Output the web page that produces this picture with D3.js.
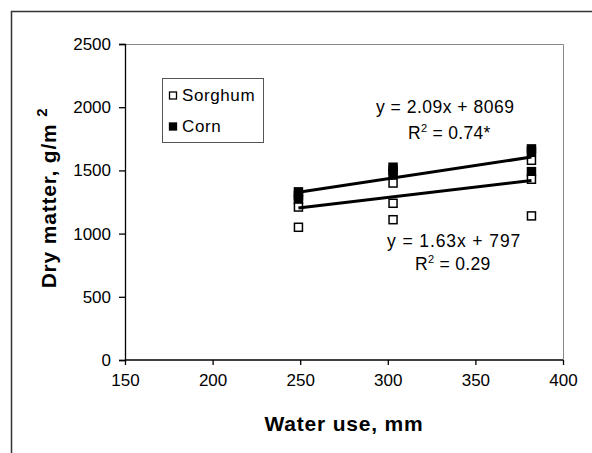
<!DOCTYPE html>
<html>
<head>
<meta charset="utf-8">
<script src="https://cdn.jsdelivr.net/npm/d3@7"></script>
<style>
    body { margin: 0; background: #fff; }
    text { font-family: "Liberation Sans", Arial, sans-serif; fill: #000; }
</style>
</head>
<body>
<div id="chart"></div>
<script>
// values
const xTicks = [150, 200, 250, 300, 350, 400];
const yTicks = [0, 500, 1000, 1500, 2000, 2500];

const sorghumWater = [249, 249, 303, 303, 303, 382, 382, 382];
const sorghumDM    = [1210, 1050, 1400, 1240, 1110, 1580, 1430, 1140];
const cornWater    = [249, 249, 249, 303, 303, 303, 382, 382, 382];
const cornDM       = [1330, 1300, 1270, 1525, 1500, 1475, 1670, 1650, 1490];

const seriesNames = ['Sorghum', 'Corn'];
const slopes      = [1.63, 2.09];
const intercepts  = [797, 806.9];
const eqLabels    = ['y = 1.63x + 797', 'y = 2.09x + 8069'];
const r2Labels    = [' = 0.29', ' = 0.74*'];

const config = {
    width: 592,
    height: 453,
    margin: {top: 44, right: 29, bottom: 93, left: 125}
};

const svg = d3.select('#chart').append('svg')
    .attr('width', config.width)
    .attr('height', config.height);

// outer chart frame (cropped on right/bottom)
svg.append('rect')
    .attr('x', 11.5).attr('y', 11.5)
    .attr('width', 640).attr('height', 500)
    .attr('fill', 'none')
    .attr('stroke', '#333')
    .attr('stroke-width', 1.5);

const w = config.width - config.margin.left - config.margin.right;
const h = config.height - config.margin.top - config.margin.bottom;

const chart = svg.append('g')
    .attr('transform', `translate(${config.margin.left}, ${config.margin.top})`);

const xScale = d3.scaleLinear().domain([150, 400]).range([0, w]);
const yScale = d3.scaleLinear().domain([0, 2500]).range([h, 0]);

// plot area: grey top/right edges
chart.append('path')
    .attr('d', `M0,0.5H${w + 0.5}V${h}`)
    .attr('fill', 'none')
    .attr('stroke', '#888')
    .attr('stroke-width', 1);

const xAxis = d3.axisBottom(xScale).tickValues(xTicks).tickSize(5).tickPadding(9).tickFormat(d3.format('d'));
const yAxis = d3.axisLeft(yScale).tickValues(yTicks).tickSize(6).tickPadding(8).tickFormat(d3.format('d'));

const xAxisGroup = chart.append('g')
    .attr('transform', `translate(0, ${h})`)
    .call(xAxis);
const yAxisGroup = chart.append('g').call(yAxis);

chart.selectAll('.domain, .tick line').attr('stroke', '#000').attr('stroke-width', 1.3);
chart.selectAll('.tick text')
    .style('font-size', '17px')
    .style('font-family', '"Liberation Sans", Arial, sans-serif');
xAxisGroup.select('.domain').attr('d', `M0.5,0H${w}`);

// axis titles
chart.append('text')
    .attr('x', w / 2)
    .attr('y', h + 71)
    .attr('text-anchor', 'middle')
    .style('font-size', '21px')
    .style('font-weight', 'bold')
    .style('letter-spacing', '0.8px')
    .text('Water use, mm');

const yTitle = chart.append('text')
    .attr('transform', `translate(-69, ${h / 2 - 4}) rotate(-90)`)
    .attr('text-anchor', 'middle')
    .style('font-size', '21px')
    .style('font-weight', 'bold')
    .style('letter-spacing', '0.8px');
yTitle.append('tspan').text('Dry matter, g/m ');
yTitle.append('tspan').attr('dy', -9).style('font-size', '15px').text('2');

// markers
const size = 8;
const cornPts = cornWater.map((x, i) => ({x: x, y: cornDM[i]}));
const sorghumPts = sorghumWater.map((x, i) => ({x: x, y: sorghumDM[i]}));

chart.selectAll('.corn')
    .data(cornPts)
    .join('rect')
        .attr('class', 'corn')
        .attr('x', d => xScale(d.x) - size / 2)
        .attr('y', d => yScale(d.y) - size / 2)
        .attr('width', size).attr('height', size)
        .attr('fill', '#000')
        .attr('stroke', '#000')
        .attr('stroke-width', 1.5);

chart.selectAll('.sorghum')
    .data(sorghumPts)
    .join('rect')
        .attr('class', 'sorghum')
        .attr('x', d => xScale(d.x) - size / 2)
        .attr('y', d => yScale(d.y) - size / 2)
        .attr('width', size).attr('height', size)
        .attr('fill', '#fff')
        .attr('stroke', '#000')
        .attr('stroke-width', 1.5);

// trend lines
const xMin = d3.min(sorghumWater.concat(cornWater));
const xMax = d3.max(sorghumWater.concat(cornWater));
const line = d3.line().x(d => xScale(d[0])).y(d => yScale(d[1]));

chart.selectAll('.trend')
    .data(slopes.map((s, i) => [[xMin, s * xMin + intercepts[i]], [xMax, s * xMax + intercepts[i]]]))
    .join('path')
        .attr('class', 'trend')
        .attr('d', line)
        .attr('fill', 'none')
        .attr('stroke', '#000')
        .attr('stroke-width', 3);

// equation labels
const eqPos = [
    {x: 262, y: 203, rx: 290, ry: 226},
    {x: 251, y: 69, rx: 283, ry: 95}
];
eqLabels.forEach((t, i) => {
    chart.append('text')
        .attr('x', eqPos[i].x).attr('y', eqPos[i].y)
        .style('font-size', '17.5px')
        .style('letter-spacing', i === 0 ? '0.9px' : '0.5px')
        .text(t);
    const r = chart.append('text')
        .attr('x', eqPos[i].rx).attr('y', eqPos[i].ry)
        .style('font-size', '17.5px')
        .style('letter-spacing', '0.3px');
    r.append('tspan').text('R');
    r.append('tspan').attr('dy', -7).style('font-size', '11px').text('2');
    r.append('tspan').attr('dy', 7).text(r2Labels[i]);
});

// legend
const legend = chart.append('g')
    .attr('transform', `translate(${162 - config.margin.left}, ${78 - config.margin.top})`);
legend.append('rect')
    .attr('x', 0.5).attr('y', 0.5)
    .attr('width', 101).attr('height', 64)
    .attr('fill', '#fff')
    .attr('stroke', '#555')
    .attr('stroke-width', 1);
seriesNames.forEach((name, i) => {
    legend.append('rect')
        .attr('x', 7.5).attr('y', 14 + i * 31)
        .attr('width', 7).attr('height', 7)
        .attr('fill', i === 0 ? '#fff' : '#000')
        .attr('stroke', '#000')
        .attr('stroke-width', 1.3);
    legend.append('text')
        .attr('x', 20).attr('y', 23 + i * 31)
        .style('font-size', '17px')
        .style('letter-spacing', '0.6px')
        .text(name);
});
</script>
</body>
</html>
